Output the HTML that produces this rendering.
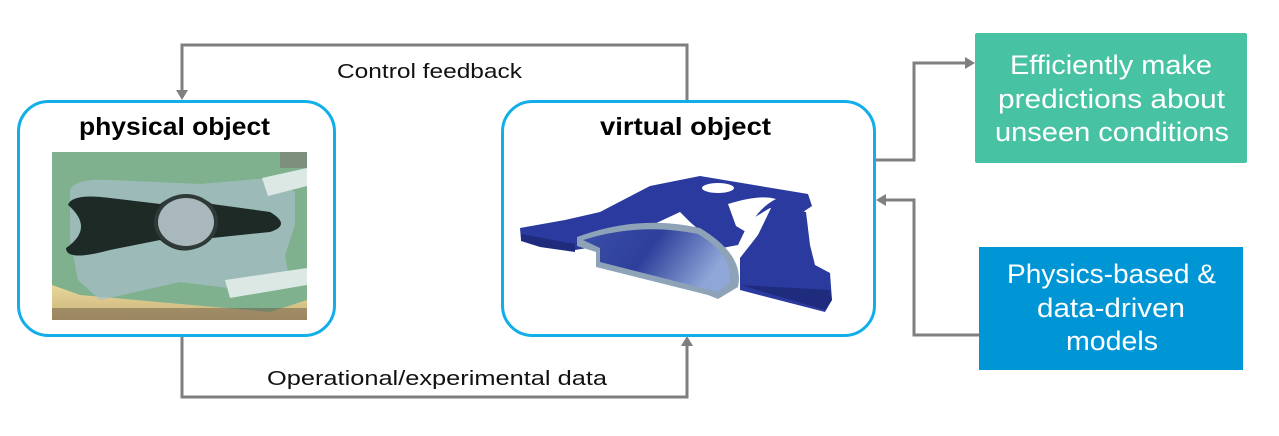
<!DOCTYPE html>
<html><head><meta charset="utf-8"><style>
html,body{margin:0;padding:0;background:#fff;}
svg{display:block;}
text{font-family:"Liberation Sans",sans-serif;}
</style></head><body>
<svg width="1279" height="436" viewBox="0 0 1279 436" xmlns="http://www.w3.org/2000/svg">
<defs>
<linearGradient id="disc" x1="0" y1="0" x2="1" y2="0.3">
<stop offset="0" stop-color="#3a4fa8"/><stop offset="0.5" stop-color="#2d3f9a"/><stop offset="1" stop-color="#8fa6d8"/></linearGradient>
<linearGradient id="yel" x1="0" y1="0" x2="0" y2="1"><stop offset="0" stop-color="#e9d79a"/><stop offset="1" stop-color="#c9b27a"/></linearGradient>
</defs>
<g stroke="#7f7f7f" stroke-width="3" fill="none">
<polyline points="687,100 687,45 182,45 182,92"/>
<polyline points="182,337 182,397 687,397 687,344"/>
<polyline points="876,160 914,160 914,63 967,63"/>
<polyline points="979,335 914,335 914,200 884,200"/>
</g>
<g fill="#7f7f7f">
<polygon points="176,90 188,90 182,100"/>
<polygon points="681,346 693,346 687,336"/>
<polygon points="965,57 965,69 975,63"/>
<polygon points="886,194 886,206 876,200"/>
</g>
<rect x="18.5" y="101.5" width="316" height="234" rx="30" fill="#fff" stroke="#12aeea" stroke-width="3"/>
<rect x="502.5" y="101.5" width="372" height="234" rx="30" fill="#fff" stroke="#12aeea" stroke-width="3"/>
<text x="79" y="135" textLength="191" lengthAdjust="spacingAndGlyphs" font-size="25" font-weight="bold" fill="#000">physical object</text>
<text x="600" y="135" textLength="171" lengthAdjust="spacingAndGlyphs" font-size="25" font-weight="bold" fill="#000">virtual object</text>
<text x="337" y="78" textLength="185" lengthAdjust="spacingAndGlyphs" font-size="20" fill="#111">Control feedback</text>
<text x="267" y="385" textLength="340" lengthAdjust="spacingAndGlyphs" font-size="20" fill="#111">Operational/experimental data</text>
<!-- photo -->
<g>
<rect x="52" y="152" width="255" height="168" fill="#80b18e"/>
<polygon points="52,285 52,320 307,320 307,300 270,312 80,295" fill="url(#yel)"/>
<rect x="52" y="308" width="255" height="12" fill="#6b5a45" opacity="0.5"/>
<rect x="280" y="152" width="27" height="16" fill="#7a7870" opacity="0.6"/>
<path d="M70,190 Q75,178 110,180 L200,184 L270,178 L295,192 L295,225 L285,255 L290,285 L260,292 L180,282 L100,300 L78,280 L70,240 Z" fill="#a6bfc6" opacity="0.75"/>
<polygon points="262,178 307,168 307,186 268,196" fill="#dbe8e3"/>
<polygon points="225,280 307,268 307,285 230,298" fill="#dbe8e3"/>
<path d="M68,205 Q72,193 110,198 L160,204 Q185,185 212,204 L270,212 Q292,225 270,232 L212,238 Q185,262 160,240 L110,250 Q66,262 66,248 Q95,228 68,205 Z" fill="#1d2a26"/>
<ellipse cx="186" cy="222" rx="32" ry="28" fill="#2f3a38"/>
<ellipse cx="186" cy="222" rx="28" ry="24" fill="#a8b8bc"/>
</g>
<!-- 3d object -->
<g>
<path d="M520,228 L565,220 L600,212 L650,186 L700,176 L808,194 L812,206 L800,214 L770,208 L750,220 L738,245 L722,248 L705,235 L690,222 L680,212 L650,226 L600,246 L575,250 L540,244 L521,240 Z" fill="#2a3a9e"/>
<path d="M772,206 L806,212 L810,245 L815,265 L830,273 L832,300 L825,312 L740,290 L740,258 L758,235 Z" fill="#2a3a9e"/>
<path d="M521,234 L521,241 L540,247 L575,252 L575,244 Z" fill="#1f2c7d"/>
<path d="M740,285 L825,310 L832,300 L830,290 Z" fill="#1f2c7d"/>
<ellipse cx="718" cy="188" rx="16" ry="5" fill="#fff"/>
<path d="M728,204 Q760,194 776,199 Q758,208 746,232 L736,226 Z" fill="#fff"/>
<path d="M577,237 Q640,214 700,228 Q745,255 738,287 L718,299 L708,295 L596,267 L596,252 L577,246 Z" fill="#8ea2b8"/>
<path d="M583,240 Q640,222 698,234 Q733,255 730,282 L718,292 L600,262 L600,248 Z" fill="url(#disc)"/>
</g>
<rect x="975" y="33" width="272" height="130" rx="2" fill="#47c3a4"/>
<g font-size="27" fill="#fff">
<text x="1010" y="74" textLength="202" lengthAdjust="spacingAndGlyphs">Efficiently make</text>
<text x="998" y="108" textLength="227" lengthAdjust="spacingAndGlyphs">predictions about</text>
<text x="995" y="141" textLength="234" lengthAdjust="spacingAndGlyphs">unseen conditions</text>
</g>
<rect x="979" y="247" width="264" height="123" fill="#0095d4"/>
<g font-size="27" fill="#fff">
<text x="1007" y="283" textLength="209" lengthAdjust="spacingAndGlyphs">Physics-based &amp;</text>
<text x="1037" y="317" textLength="148" lengthAdjust="spacingAndGlyphs">data-driven</text>
<text x="1066" y="350" textLength="92" lengthAdjust="spacingAndGlyphs">models</text>
</g>
</svg>
</body></html>
